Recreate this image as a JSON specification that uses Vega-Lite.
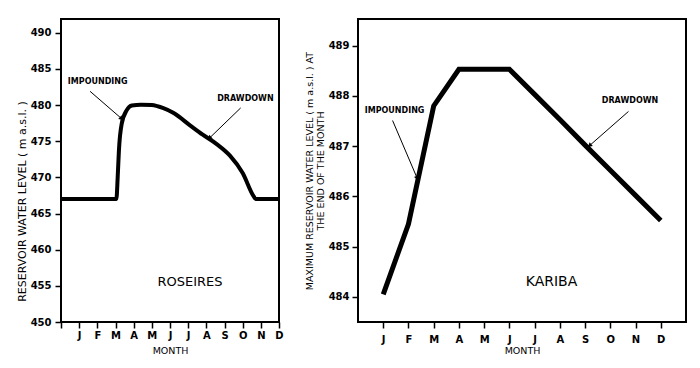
{
  "$schema": "https://vega.github.io/schema/vega-lite/v6.json",
  "background": "white",
  "padding": {"left": 15, "top": 18, "right": 5, "bottom": 5},
  "spacing": 15,
  "config": {
    "view": {"stroke": "black", "strokeWidth": 2},
    "axis": {
      "grid": false, "domain": false, "tickColor": "black", "tickWidth": 1.5, "tickSize": 6, "tickCount": 50,
      "labelOverlap": false, "labelFlush": false, "labelBound": false,
      "labelFont": "DejaVu Sans", "labelFontWeight": "bold", "labelFontSize": 10, "labelColor": "black",
      "titleFont": "DejaVu Sans", "titleFontWeight": "normal", "titleFontSize": 9.5, "titleColor": "black"
    },
    "text": {"font": "DejaVu Sans", "color": "black"}
  },
  "datasets": {
    "roseires": [
      {"month": 0, "level": 467}, {"month": 3.05, "level": 467}, {"month": 3.12, "level": 470},
      {"month": 3.19, "level": 473.8}, {"month": 3.34, "level": 477.4}, {"month": 3.62, "level": 479.3},
      {"month": 3.9, "level": 479.95}, {"month": 4.4, "level": 480.05}, {"month": 5.0, "level": 480},
      {"month": 5.6, "level": 479.6}, {"month": 6.2, "level": 478.9}, {"month": 7.1, "level": 477.2},
      {"month": 7.8, "level": 475.9}, {"month": 8.57, "level": 474.6}, {"month": 9.3, "level": 473.0},
      {"month": 10.0, "level": 470.6}, {"month": 10.6, "level": 467.4}, {"month": 10.72, "level": 467},
      {"month": 12, "level": 467}
    ],
    "roseires_arrows": [
      {"name": "IMPOUNDING", "x1": 1.6, "y1": 481.9, "x2": 3.3, "y2": 478.2},
      {"name": "DRAWDOWN", "x1": 9.89, "y1": 479.6, "x2": 8.2, "y2": 475.5}
    ],
    "roseires_labels": [
      {"name": "IMPOUNDING", "x": 2.02, "y": 483.2},
      {"name": "DRAWDOWN", "x": 10.15, "y": 480.9},
      {"name": "ROSEIRES", "x": 7.1, "y": 455.5}
    ],
    "kariba": [
      {"month": 1, "level": 484.05}, {"month": 2, "level": 485.45}, {"month": 3, "level": 487.8},
      {"month": 4, "level": 488.53}, {"month": 5, "level": 488.53}, {"month": 6, "level": 488.53},
      {"month": 7, "level": 488.03}, {"month": 8, "level": 487.53}, {"month": 9, "level": 487.02},
      {"month": 10, "level": 486.52}, {"month": 11, "level": 486.02}, {"month": 12, "level": 485.52}
    ],
    "kariba_arrows": [
      {"name": "IMPOUNDING", "x1": 1.37, "y1": 487.51, "x2": 2.33, "y2": 486.38},
      {"name": "DRAWDOWN", "x1": 10.72, "y1": 487.69, "x2": 9.2, "y2": 487.02}
    ],
    "kariba_labels": [
      {"name": "IMPOUNDING", "x": 1.45, "y": 487.7},
      {"name": "DRAWDOWN", "x": 10.78, "y": 487.9},
      {"name": "KARIBA", "x": 7.67, "y": 484.29}
    ]
  },
  "hconcat": [
    {
      "width": 218, "height": 303,
      "layer": [
        {
          "data": {"name": "roseires"},
          "mark": {"type": "line", "interpolate": "monotone", "color": "black", "strokeWidth": 4},
          "encoding": {
            "x": {"field": "month", "type": "quantitative", "title": "MONTH",
              "scale": {"domain": [0, 12], "nice": false, "zero": false},
              "axis": {"values": [0,1,2,3,4,5,6,7,8,9,10,11,12], "labelAngle": 0, "labelPadding": 2, "titlePadding": 5,
                "labelExpr": "['','J','F','M','A','M','J','J','A','S','O','N','D'][datum.value]"}},
            "y": {"field": "level", "type": "quantitative", "title": "RESERVOIR WATER LEVEL ( m a.s.l. )",
              "scale": {"domain": [450, 491.9], "nice": false, "zero": false},
              "axis": {"values": [450,455,460,465,470,475,480,485,490], "format": "d", "labelPadding": 4, "titlePadding": 3, "titleY": 182, "titleFontSize": 11}}
          }
        },
        {
          "data": {"name": "roseires_arrows"},
          "mark": {"type": "rule", "color": "black", "strokeWidth": 1},
          "encoding": {
            "x": {"field": "x1", "type": "quantitative", "title": "MONTH"},
            "x2": {"field": "x2"},
            "y": {"field": "y1", "type": "quantitative", "title": "RESERVOIR WATER LEVEL ( m a.s.l. )"},
            "y2": {"field": "y2"}
          }
        },
        {
          "data": {"name": "roseires_arrows"},
          "transform": [{"filter": "datum.name == 'IMPOUNDING'"}],
          "mark": {"type": "point", "shape": "triangle", "filled": true, "color": "black", "opacity": 1, "size": 24, "angle": 131},
          "encoding": {
            "x": {"field": "x2", "type": "quantitative", "title": "MONTH"},
            "y": {"field": "y2", "type": "quantitative", "title": "RESERVOIR WATER LEVEL ( m a.s.l. )"}
          }
        },
        {
          "data": {"name": "roseires_arrows"},
          "transform": [{"filter": "datum.name == 'DRAWDOWN'"}],
          "mark": {"type": "point", "shape": "triangle", "filled": true, "color": "black", "opacity": 1, "size": 24, "angle": 226},
          "encoding": {
            "x": {"field": "x2", "type": "quantitative", "title": "MONTH"},
            "y": {"field": "y2", "type": "quantitative", "title": "RESERVOIR WATER LEVEL ( m a.s.l. )"}
          }
        },
        {
          "data": {"name": "roseires_labels"},
          "transform": [{"filter": "datum.name != 'ROSEIRES'"}],
          "mark": {"type": "text", "fontSize": 8, "fontWeight": "bold", "align": "center", "baseline": "middle"},
          "encoding": {
            "x": {"field": "x", "type": "quantitative", "title": "MONTH"},
            "y": {"field": "y", "type": "quantitative", "title": "RESERVOIR WATER LEVEL ( m a.s.l. )"},
            "text": {"field": "name"}
          }
        },
        {
          "data": {"name": "roseires_labels"},
          "transform": [{"filter": "datum.name == 'ROSEIRES'"}],
          "mark": {"type": "text", "fontSize": 13, "align": "center", "baseline": "middle"},
          "encoding": {
            "x": {"field": "x", "type": "quantitative", "title": "MONTH"},
            "y": {"field": "y", "type": "quantitative", "title": "RESERVOIR WATER LEVEL ( m a.s.l. )"},
            "text": {"field": "name"}
          }
        }
      ]
    },
    {
      "width": 328, "height": 303,
      "layer": [
        {
          "data": {"name": "kariba"},
          "mark": {"type": "line", "color": "black", "strokeWidth": 5, "strokeJoin": "miter"},
          "encoding": {
            "x": {"field": "month", "type": "quantitative", "title": "MONTH",
              "scale": {"domain": [0, 13], "nice": false, "zero": false},
              "axis": {"values": [1,2,3,4,5,6,7,8,9,10,11,12], "labelAngle": 0, "labelPadding": 6, "titlePadding": 1,
                "labelExpr": "['','J','F','M','A','M','J','J','A','S','O','N','D'][datum.value]"}},
            "y": {"field": "level", "type": "quantitative",
              "title": ["MAXIMUM RESERVOIR WATER LEVEL ( m a.s.l. ) AT", "THE END OF THE MONTH"],
              "scale": {"domain": [483.5, 489.53], "nice": false, "zero": false},
              "axis": {"values": [484,485,486,487,488,489], "format": "d", "labelPadding": 3, "titlePadding": 3, "titleFontSize": 9.5, "titleLineHeight": 11}}
          }
        },
        {
          "data": {"name": "kariba_arrows"},
          "mark": {"type": "rule", "color": "black", "strokeWidth": 1},
          "encoding": {
            "x": {"field": "x1", "type": "quantitative", "title": "MONTH"},
            "x2": {"field": "x2"},
            "y": {"field": "y1", "type": "quantitative", "title": ["MAXIMUM RESERVOIR WATER LEVEL ( m a.s.l. ) AT", "THE END OF THE MONTH"]},
            "y2": {"field": "y2"}
          }
        },
        {
          "data": {"name": "kariba_arrows"},
          "transform": [{"filter": "datum.name == 'IMPOUNDING'"}],
          "mark": {"type": "point", "shape": "triangle", "filled": true, "color": "black", "opacity": 1, "size": 24, "angle": 157},
          "encoding": {
            "x": {"field": "x2", "type": "quantitative", "title": "MONTH"},
            "y": {"field": "y2", "type": "quantitative", "title": ["MAXIMUM RESERVOIR WATER LEVEL ( m a.s.l. ) AT", "THE END OF THE MONTH"]}
          }
        },
        {
          "data": {"name": "kariba_arrows"},
          "transform": [{"filter": "datum.name == 'DRAWDOWN'"}],
          "mark": {"type": "point", "shape": "triangle", "filled": true, "color": "black", "opacity": 1, "size": 24, "angle": 229},
          "encoding": {
            "x": {"field": "x2", "type": "quantitative", "title": "MONTH"},
            "y": {"field": "y2", "type": "quantitative", "title": ["MAXIMUM RESERVOIR WATER LEVEL ( m a.s.l. ) AT", "THE END OF THE MONTH"]}
          }
        },
        {
          "data": {"name": "kariba_labels"},
          "transform": [{"filter": "datum.name != 'KARIBA'"}],
          "mark": {"type": "text", "fontSize": 8, "fontWeight": "bold", "align": "center", "baseline": "middle"},
          "encoding": {
            "x": {"field": "x", "type": "quantitative", "title": "MONTH"},
            "y": {"field": "y", "type": "quantitative", "title": ["MAXIMUM RESERVOIR WATER LEVEL ( m a.s.l. ) AT", "THE END OF THE MONTH"]},
            "text": {"field": "name"}
          }
        },
        {
          "data": {"name": "kariba_labels"},
          "transform": [{"filter": "datum.name == 'KARIBA'"}],
          "mark": {"type": "text", "fontSize": 14, "align": "center", "baseline": "middle"},
          "encoding": {
            "x": {"field": "x", "type": "quantitative", "title": "MONTH"},
            "y": {"field": "y", "type": "quantitative", "title": ["MAXIMUM RESERVOIR WATER LEVEL ( m a.s.l. ) AT", "THE END OF THE MONTH"]},
            "text": {"field": "name"}
          }
        }
      ]
    }
  ]
}
